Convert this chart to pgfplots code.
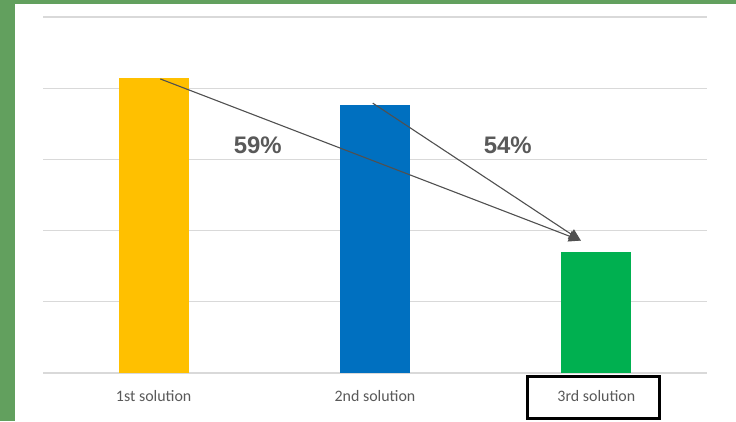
\documentclass[border=0pt]{standalone}
\usepackage{fontspec}
\setmainfont{Carlito}
\newfontfamily\arialf{Liberation Sans}
\usepackage{pgfplots}
\pgfplotsset{compat=1.18}
\usetikzlibrary{arrows.meta}
\definecolor{frame}{HTML}{62A05E}
\definecolor{cyel}{HTML}{FFC000}
\definecolor{cblu}{HTML}{0070C0}
\definecolor{cgrn}{HTML}{00B050}
\definecolor{txt}{HTML}{595959}
\definecolor{arr}{HTML}{505050}
\definecolor{grd}{HTML}{D9D9D9}
\begin{document}
\begin{tikzpicture}[x=1bp,y=1bp]
\fill[white] (0,0) rectangle (736,421);
\fill[frame] (0,0) rectangle (15,421);
\fill[frame] (0,417) rectangle (736,421);
\useasboundingbox (0,0) rectangle (736,421);
\begin{axis}[
  at={(43bp,48bp)}, anchor=south west,
  scale only axis, width=664bp, height=356bp,
  xmin=-0.5, xmax=2.5, ymin=0, ymax=5,
  ytick={0,1,2,3,4,5}, yticklabels={},
  xtick={0,1,2}, xticklabels={1st solution,2nd solution,3rd solution},
  xticklabel style={font=\fontsize{16}{16}\selectfont, text=txt, anchor=center, yshift=-23bp},
  major tick length=0pt,
  axis line style={draw=none},
  ymajorgrids, grid style={grd, line width=1.2bp},
  clip=false,
]
\addplot[ybar, bar shift=0pt, bar width=70bp, fill=cyel, draw=none] coordinates {(0,4.14)};
\addplot[ybar, bar shift=0pt, bar width=70bp, fill=cblu, draw=none] coordinates {(1,3.76)};
\addplot[ybar, bar shift=0pt, bar width=70bp, fill=cgrn, draw=none] coordinates {(2,1.70)};
\draw[arr, line width=1.1bp, -{Triangle[length=12bp,width=11bp,fill=arr]}] (axis cs:0.03,4.13) -- (axis cs:1.93,1.86);
\draw[arr, line width=1.1bp, -{Triangle[length=12bp,width=11bp,fill=arr]}] (axis cs:0.99,3.79) -- (axis cs:1.93,1.86);
\node[txt, font=\arialf\bfseries\fontsize{24}{24}\selectfont] at (axis cs:0.47,3.2) {59\%};
\node[txt, font=\arialf\bfseries\fontsize{24}{24}\selectfont] at (axis cs:1.60,3.2) {54\%};
\end{axis}
\draw[black, line width=3bp] (527,3) rectangle (659,45);
\end{tikzpicture}
\end{document}
